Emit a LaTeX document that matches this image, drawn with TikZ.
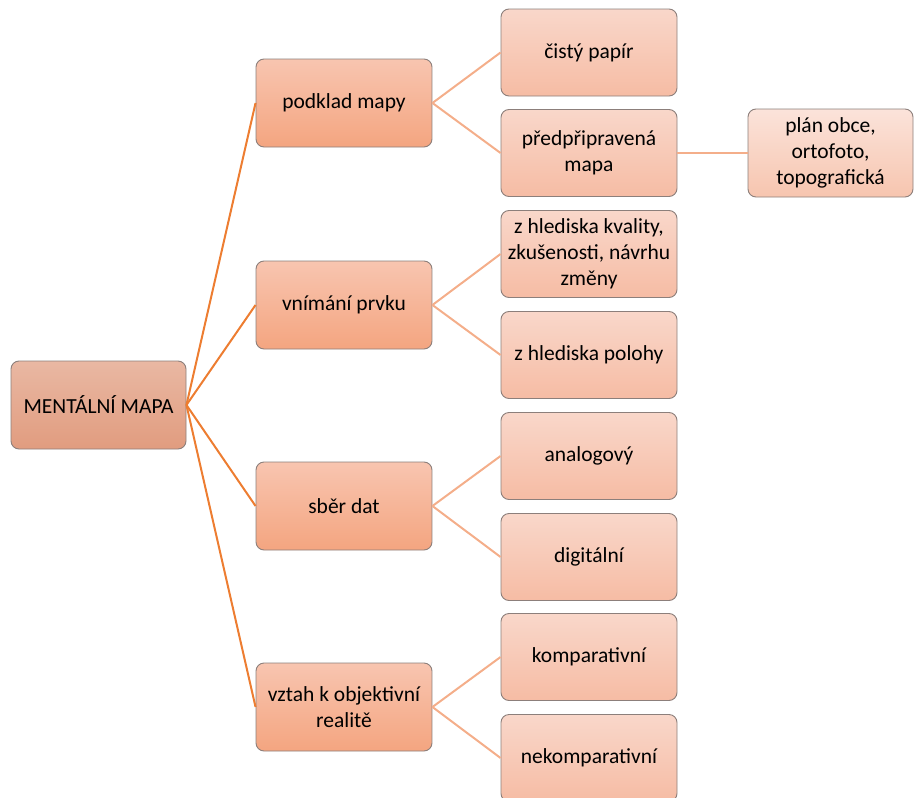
\documentclass[tikz,border=0pt]{standalone}
\usepackage{fontspec}
\setmainfont{Carlito}
\definecolor{rootT}{HTML}{E9B8A3}
\definecolor{rootB}{HTML}{E19C7F}
\definecolor{oneT}{HTML}{F8C5B0}
\definecolor{oneB}{HTML}{F4A580}
\definecolor{twoT}{HTML}{F9D7CA}
\definecolor{twoB}{HTML}{F6BCA4}
\definecolor{thrT}{HTML}{FBE3DA}
\definecolor{thrB}{HTML}{F7C5AF}
\definecolor{edgeA}{HTML}{ED7D31}
\definecolor{edgeB}{HTML}{F4AE8A}
\definecolor{bord}{HTML}{8C7F7B}
\begin{document}
\begin{tikzpicture}[x=1pt,y=-1pt,
  box/.style={draw=bord,line width=0.9pt,rounded corners=8pt,align=center,
    font=\fontsize{21.5}{26}\selectfont,inner sep=2pt},
  rootbox/.style={box,top color=rootT,bottom color=rootB,minimum width=175pt,minimum height=88pt},
  onebox/.style={box,top color=oneT,bottom color=oneB,minimum width=176pt,minimum height=88pt},
  twobox/.style={box,top color=twoT,bottom color=twoB,minimum width=176pt,minimum height=87pt},
  thrbox/.style={box,top color=thrT,bottom color=thrB,minimum width=165pt,minimum height=88pt},
  linkA/.style={draw=edgeA,line width=2pt},
  linkB/.style={draw=edgeB,line width=2pt}]
\useasboundingbox (0,0) rectangle (914,798);
\node[rootbox] (root) at (98.5,405) {MENTÁLNÍ MAPA};
\node[onebox] (a) at (344,103) {podklad mapy};
\node[onebox] (b) at (344,305) {vnímání prvku};
\node[onebox] (c) at (344,506) {sběr dat};
\node[onebox] (d) at (344,707) {vztah k objektivní\\realitě};
\node[twobox] (a1) at (589,52.5) {čistý papír};
\node[twobox] (a2) at (589,153) {předpřipravená\\mapa};
\node[twobox] (b1) at (589,254) {z hlediska kvality,\\zkušenosti, návrhu\\změny};
\node[twobox] (b2) at (589,355) {z hlediska polohy};
\node[twobox] (c1) at (589,456) {analogový};
\node[twobox] (c2) at (589,557) {digitální};
\node[twobox] (d1) at (589,657) {komparativní};
\node[twobox] (d2) at (589,758) {nekomparativní};
\node[thrbox] (a21) at (830.5,153) {plán obce,\\ortofoto,\\topografická};
\foreach \t in {a,b,c,d} \draw[linkA] (root.east) -- (\t.west);
\foreach \s/\t in {a/a1,a/a2,b/b1,b/b2,c/c1,c/c2,d/d1,d/d2} \draw[linkB] (\s.east) -- (\t.west);
\draw[linkB] (a2.east) -- (a21.west);
\end{tikzpicture}
\end{document}
